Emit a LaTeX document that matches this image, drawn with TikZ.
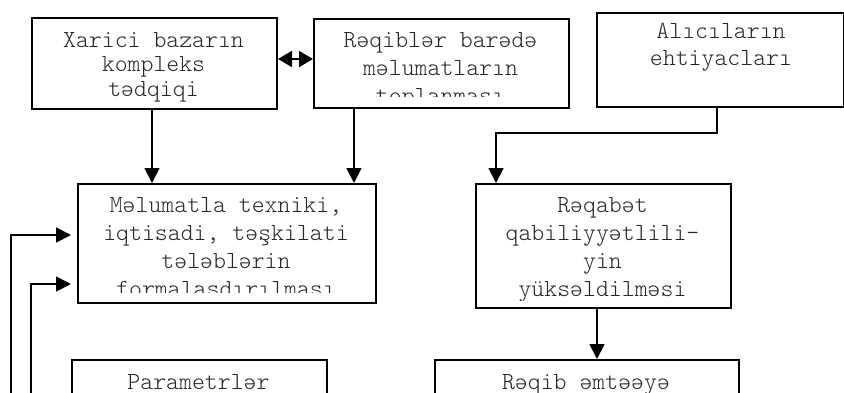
\documentclass[tikz,border=0pt]{standalone}
\usepackage{fontspec}
\newfontfamily\boxfont{Latin Modern Mono Light}
\usetikzlibrary{arrows.meta}

\begin{document}
\begin{tikzpicture}[x=1pt,y=-1pt,
  box/.style={draw, line width=2pt, rectangle, inner sep=0pt, anchor=north west},
  txt/.style={font=\boxfont\fontsize{24.6pt}{27pt}\selectfont, text=black!85, anchor=base, inner sep=0pt},
  conn/.style={line width=1.8pt, -{Triangle[length=15pt,width=15pt]}},
]
\useasboundingbox (0,0) rectangle (844,392);

% boxes
\node[box, minimum width=245pt, minimum height=91pt] (xarici) at (31,17) {};
\node[box, minimum width=255pt, minimum height=89pt] (reqib) at (313,18) {};
\node[box, minimum width=247pt, minimum height=94pt] (alici) at (596,12) {};
\node[box, minimum width=298pt, minimum height=119pt] (melumat) at (77,183) {};
\node[box, minimum width=255pt, minimum height=124pt] (reqabet) at (475,183) {};
\node[box, minimum width=255pt, minimum height=70pt] (param) at (71,359) {};
\node[box, minimum width=304pt, minimum height=70pt] (emtee) at (434,359) {};

% texts
\foreach \t [count=\i] in {Xarici bazarın, kompleks, tədqiqi}
  \node[txt] (xt\i) at (153.5,{47+24.5*(\i-1)}) {\t};
\begin{scope}
  \clip (314,19) rectangle (567,96);
  \foreach \t [count=\i] in {Rəqiblər barədə, məlumatların, toplanması}
    \node[txt] (rt\i) at (440.5,{47+28*(\i-1)}) {\t};
\end{scope}
\foreach \t [count=\i] in {Alıcıların, ehtiyacları}
  \node[txt] (at\i) at (721,{38+27*(\i-1)}) {\t};
\begin{scope}
  \clip (78,184) rectangle (374,292);
  \foreach \t [count=\i] in {{Məlumatla texniki,}, {iqtisadi, təşkilati}, tələblərin, formalaşdırılması}
    \node[txt] (mt\i) at (226,{212+28*(\i-1)}) {\t};
\end{scope}
\begin{scope}
  \clip (476,184) rectangle (729,300);
  \foreach \t [count=\i] in {Rəqabət, qabiliyyətlili-, yin, yüksəldilməsi}
    \node[txt] (qt\i) at (602.5,{212+28*(\i-1)}) {\t};
\end{scope}
\node[txt] (pt1) at (198.5,389) {Parametrlər};
\node[txt] (et1) at (586,389) {Rəqib əmtəəyə};

% helper coordinates for connector positions
\coordinate (dbl) at (0,59);
\coordinate (ax) at (152,0);
\coordinate (bx) at (354,0);
\coordinate (cx) at (717,0);
\coordinate (bend) at (496,133);
\coordinate (dx) at (597,0);
\coordinate (fb1) at (11,400);
\coordinate (fb2) at (31,400);
\coordinate (h1) at (0,235);
\coordinate (h2) at (0,284);

% connectors
\draw[line width=1.8pt, {Triangle[length=14pt,width=16pt]}-{Triangle[length=14pt,width=16pt]}]
  (xarici.east |- dbl) -- (reqib.west |- dbl);
\draw[conn] (xarici.south -| ax) -- (melumat.north -| ax);
\draw[conn] (reqib.south -| bx) -- (melumat.north -| bx);
\draw[conn] (alici.south -| cx) |- (bend) -- (bend |- reqabet.north);
\draw[conn] (reqabet.south -| dx) -- (emtee.north -| dx);
\draw[conn, shorten >=6pt] (fb1) |- (melumat.west |- h1);
\draw[conn, shorten >=6pt] (fb2) |- (melumat.west |- h2);
\end{tikzpicture}
\end{document}
